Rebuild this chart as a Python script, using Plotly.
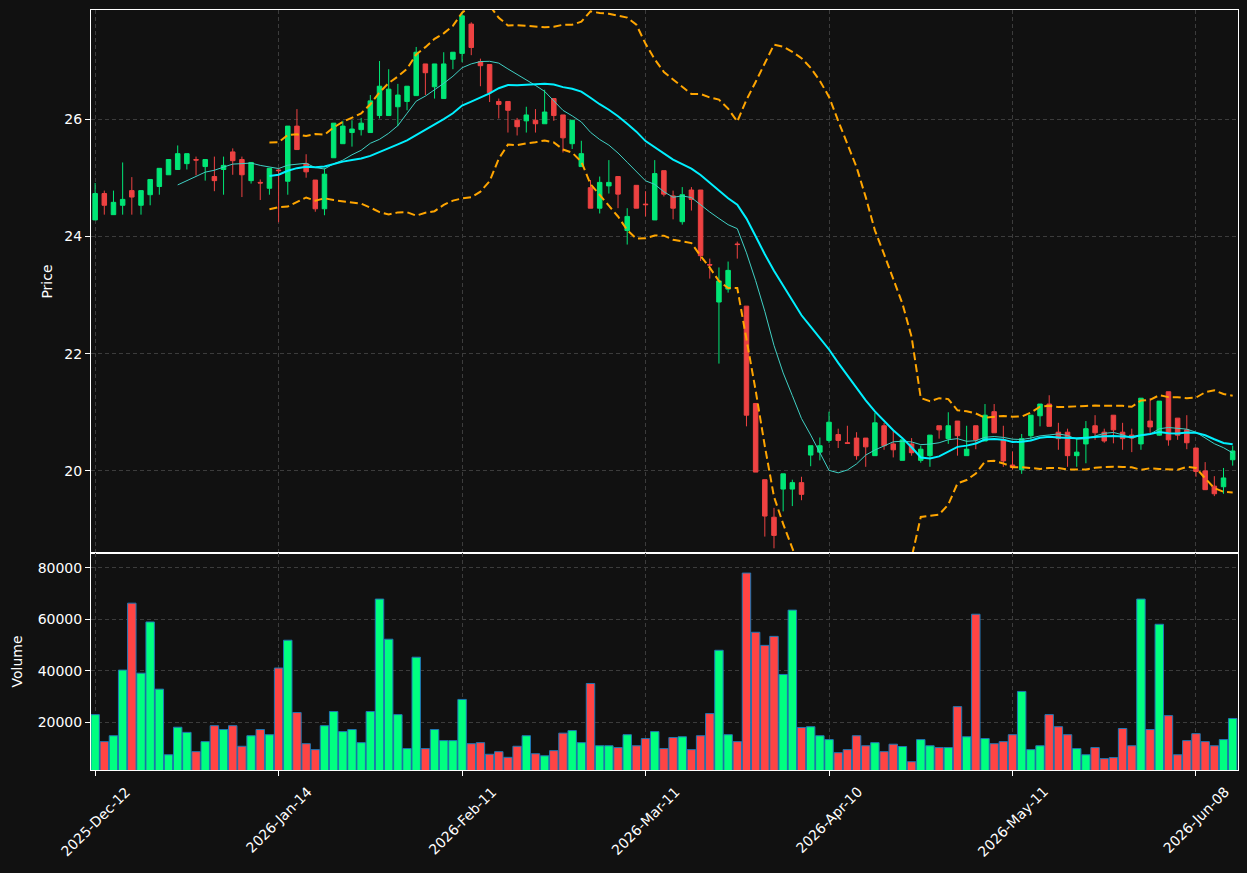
import pandas as pd
import plotly.graph_objects as go
from plotly.subplots import make_subplots

# ---------------- data ----------------
opens = [24.28, 24.73, 24.37, 24.53, 24.78, 24.53, 24.71, 24.85, 25.05, 25.14,
         25.24, 25.31, 25.19, 25.02, 25.14, 25.44, 25.31, 24.95, 24.92, 24.82,
         25.13, 24.94, 25.88, 25.24, 24.96, 24.47, 25.34, 25.58, 25.77, 25.82,
         25.77, 26.06, 26.06, 26.21, 26.30, 26.40, 26.94, 26.55, 26.35, 27.02,
         27.12, 27.62, 26.98, 26.93, 26.30, 26.30, 25.98, 25.97, 25.98, 25.92,
         26.35, 26.07, 25.58, 25.19, 24.83, 24.48, 24.86, 25.02, 24.10, 24.87,
         24.55, 24.28, 25.12, 24.69, 24.25, 24.79, 24.79, 23.52, 22.88, 23.10,
         23.87, 22.81, 21.15, 19.85, 19.21, 19.69, 19.69, 19.80, 20.27, 20.32,
         20.52, 20.62, 20.48, 20.56, 20.56, 20.26, 20.77, 20.46, 20.18, 20.46,
         20.18, 20.26, 20.77, 20.55, 20.85, 20.26, 20.77, 20.51, 21.01, 20.53,
         20.10, 20.02, 20.60, 20.94, 21.14, 20.66, 20.66, 20.26, 20.46, 20.77,
         20.66, 20.95, 20.66, 20.61, 20.46, 20.85, 20.61, 21.35, 20.90, 20.70,
         20.39, 20.00, 19.74, 19.73, 20.19]
highs = [24.91, 24.78, 24.78, 25.26, 25.01, 24.78, 24.97, 25.16, 25.31, 25.55,
         25.41, 25.36, 25.31, 25.36, 25.36, 25.50, 25.36, 25.26, 24.97, 25.16,
         25.16, 25.88, 26.17, 25.40, 24.96, 25.16, 25.93, 25.97, 25.98, 26.02,
         26.41, 26.99, 26.85, 26.60, 26.56, 27.23, 26.94, 26.94, 27.14, 27.14,
         27.83, 27.65, 27.03, 26.93, 26.35, 26.30, 26.02, 26.21, 26.17, 26.50,
         26.35, 26.07, 25.98, 25.63, 24.96, 25.02, 25.30, 25.02, 24.48, 24.87,
         24.77, 25.30, 25.12, 24.78, 24.84, 24.84, 24.79, 23.62, 23.47, 23.57,
         23.91, 22.81, 21.15, 19.85, 19.37, 19.95, 19.85, 19.90, 20.43, 20.57,
         21.01, 20.72, 20.77, 20.66, 20.56, 20.99, 20.82, 20.68, 20.53, 20.56,
         20.43, 20.61, 20.77, 21.00, 20.85, 20.77, 20.77, 21.14, 21.14, 20.77,
         20.33, 20.63, 20.95, 21.14, 21.29, 20.82, 20.72, 20.55, 20.85, 20.95,
         20.72, 20.95, 20.82, 20.72, 21.24, 21.24, 21.19, 21.35, 20.90, 20.95,
         20.39, 20.15, 19.91, 20.05, 20.43]
lows = [24.28, 24.37, 24.37, 24.37, 24.37, 24.37, 24.53, 24.71, 25.05, 25.14,
        25.14, 25.04, 24.95, 24.77, 24.71, 25.05, 24.67, 24.90, 24.62, 24.71,
        24.24, 24.71, 25.48, 25.00, 24.42, 24.36, 25.34, 25.58, 25.53, 25.72,
        25.77, 26.01, 26.06, 25.88, 26.15, 26.40, 26.41, 26.35, 26.35, 26.85,
        26.97, 27.09, 26.56, 26.29, 26.01, 25.77, 25.72, 25.77, 25.77, 25.92,
        25.97, 25.43, 25.49, 25.19, 24.48, 24.39, 24.73, 24.48, 23.86, 24.48,
        24.34, 24.28, 24.68, 24.29, 24.20, 24.44, 23.58, 23.28, 21.83, 23.04,
        23.62, 20.76, 19.98, 18.88, 18.68, 19.31, 19.40, 19.50, 20.08, 20.18,
        20.48, 20.39, 20.46, 20.19, 20.07, 20.26, 20.36, 20.23, 20.18, 20.26,
        20.14, 20.07, 20.55, 20.46, 20.26, 20.26, 20.37, 20.51, 20.65, 20.07,
        20.02, 19.95, 20.53, 20.76, 20.76, 20.36, 20.07, 20.07, 20.13, 20.53,
        20.48, 20.47, 20.36, 20.32, 20.36, 20.65, 20.60, 20.43, 20.53, 20.37,
        19.90, 19.68, 19.57, 19.61, 20.09]
closes = [24.73, 24.53, 24.58, 24.63, 24.67, 24.78, 24.97, 25.16, 25.31, 25.41,
          25.41, 25.30, 25.31, 24.95, 25.21, 25.29, 25.05, 25.26, 24.91, 25.16,
          25.12, 25.88, 25.48, 25.10, 24.47, 25.06, 25.93, 25.88, 25.83, 25.93,
          26.31, 26.56, 26.51, 26.41, 26.56, 27.14, 26.79, 26.94, 26.94, 27.14,
          27.76, 27.22, 26.91, 26.45, 26.25, 26.15, 25.87, 26.07, 25.92, 26.12,
          26.06, 25.68, 25.98, 25.41, 24.48, 24.92, 24.92, 24.72, 24.34, 24.48,
          24.54, 25.07, 24.72, 24.48, 24.71, 24.63, 23.67, 23.51, 23.24, 23.42,
          23.86, 20.95, 19.98, 19.23, 18.90, 19.95, 19.80, 19.60, 20.43, 20.43,
          20.83, 20.52, 20.47, 20.26, 20.41, 20.82, 20.43, 20.36, 20.53, 20.31,
          20.37, 20.61, 20.70, 20.77, 20.60, 20.37, 20.53, 20.95, 20.65, 20.17,
          20.06, 20.55, 20.95, 21.14, 20.76, 20.55, 20.26, 20.32, 20.72, 20.65,
          20.51, 20.70, 20.55, 20.56, 21.24, 20.75, 21.19, 20.53, 20.61, 20.48,
          19.99, 19.68, 19.61, 19.88, 20.34]
volumes = [22900, 12400, 14700, 40200, 66200, 39000, 58900, 32800, 7300, 18000,
           16000, 8500, 12400, 18600, 17100, 18600, 10600, 14700, 17100, 15100,
           41000, 51800, 23700, 11600, 9300, 18600, 24100, 16300, 17100, 12000,
           24100, 67800, 52200, 22900, 9700, 45200, 9700, 17100, 12800, 12800,
           28800, 11600, 12000, 7500, 8500, 6300, 10600, 14700, 7700, 6900,
           8900, 15700, 16700, 12000, 35000, 10800, 10800, 10100, 15100, 10800,
           13600, 16300, 9700, 14000, 14300, 9300, 14700, 23300, 47900, 15100,
           12400, 77900, 54900, 49800, 53300, 38500, 63500, 17900, 18200, 14700,
           13200, 8100, 9300, 14700, 10800, 12000, 8500, 11400, 10500, 4600,
           13200, 10800, 10100, 10100, 26000, 14300, 61900, 13600, 11600, 12400,
           15100, 31900, 9300, 10800, 22900, 18200, 15100, 9700, 7300, 10100,
           5800, 6200, 17500, 10800, 67800, 17100, 58000, 22500, 7300, 12800,
           15500, 12400, 10800, 13200, 21400]
tick_labels = ["2025-Dec-12", "2026-Jan-14", "2026-Feb-11", "2026-Mar-11",
               "2026-Apr-10", "2026-May-11", "2026-Jun-08"]
tick_every = 20  # trading days between labelled ticks

# ---------------- derived indicators ----------------
n = len(closes)
idx = list(range(n))
cs = pd.Series(closes)
ma10 = cs.rolling(10).mean()
ma20 = cs.rolling(20).mean()
sd20 = cs.rolling(20).std(ddof=0)
bb_up = ma20 + 2 * sd20
bb_lo = ma20 - 2 * sd20

# ---------------- style ----------------
BG = "#111111"
FG = "#ffffff"
GRID = "#3c3c3c"
UP_C, DN_C = "#00e676", "#ee4242"
UP_V, DN_V = "#00ff80", "#ff4444"
FONT = "DejaVu Sans"

fig = make_subplots(rows=2, cols=1, shared_xaxes=True, vertical_spacing=0,
                    row_heights=[543 / 760, 217 / 760])

fig.add_trace(go.Candlestick(
    x=idx, open=opens, high=highs, low=lows, close=closes,
    increasing=dict(line=dict(color=UP_C, width=1), fillcolor=UP_C),
    decreasing=dict(line=dict(color=DN_C, width=1), fillcolor=DN_C),
    whiskerwidth=0, showlegend=False, name="OHLC"), row=1, col=1)

fig.add_trace(go.Scatter(x=idx, y=ma10, mode="lines",
                         line=dict(color="#40d0c4", width=1), showlegend=False),
              row=1, col=1)
fig.add_trace(go.Scatter(x=idx, y=ma20, mode="lines",
                         line=dict(color="#00f0ff", width=2), showlegend=False),
              row=1, col=1)
for band in (bb_up, bb_lo):
    fig.add_trace(go.Scatter(x=idx, y=band, mode="lines",
                             line=dict(color="#ffa500", width=2, dash="8px,4px"),
                             showlegend=False), row=1, col=1)

vcolors = [UP_V if c >= o else DN_V for o, c in zip(opens, closes)]
fig.add_trace(go.Bar(x=idx, y=volumes, width=0.92,
                     marker=dict(color=vcolors, line=dict(color="#1f77b4", width=1)),
                     showlegend=False), row=2, col=1)

tickvals = list(range(0, n, tick_every))[:len(tick_labels)]

axis_common = dict(showline=True, mirror=True, linecolor=FG, linewidth=1,
                   showgrid=True, gridcolor=GRID, gridwidth=1, griddash="4px,3px",
                   zeroline=False, tickfont=dict(color=FG, size=14, family=FONT),
                   tickcolor=FG, ticklen=5, tickwidth=1)

xr = [-0.45, n - 1 + 0.58]
fig.update_xaxes(range=xr, tickvals=tickvals, ticktext=tick_labels,
                 rangeslider_visible=False, **axis_common)
fig.update_xaxes(showticklabels=False, ticks="", row=1, col=1)
fig.update_xaxes(ticks="outside", showticklabels=False, row=2, col=1)

# rotated date labels centred under their ticks (matplotlib-style)
for tv, tl in zip(tickvals, tick_labels):
    fig.add_annotation(x=tv, xref="x2", y=0, yref="paper", text=tl,
                       textangle=-45, showarrow=False, xanchor="center",
                       yanchor="top", yshift=-11,
                       font=dict(color=FG, size=14, family=FONT))

fig.update_yaxes(ticks="outside", **axis_common)
fig.update_yaxes(range=[18.60, 27.86], dtick=2, tick0=0,
                 title=dict(text="Price", font=dict(color=FG, size=14, family=FONT),
                            standoff=8), row=1, col=1)
fig.update_yaxes(range=[0.3 * min(volumes), 1.1 * max(volumes)], dtick=20000, tick0=0,
                 tickformat="d",
                 title=dict(text="Volume", font=dict(color=FG, size=14, family=FONT),
                            standoff=11), row=2, col=1)

fig.update_layout(width=1247, height=873, autosize=False,
                  margin=dict(l=91, r=9, t=10, b=103),
                  paper_bgcolor=BG, plot_bgcolor=BG,
                  font=dict(family=FONT, color=FG, size=14),
                  showlegend=False, boxgap=0.3, bargap=0.05,
                  hovermode=False)

fig.write_html("out.html")
